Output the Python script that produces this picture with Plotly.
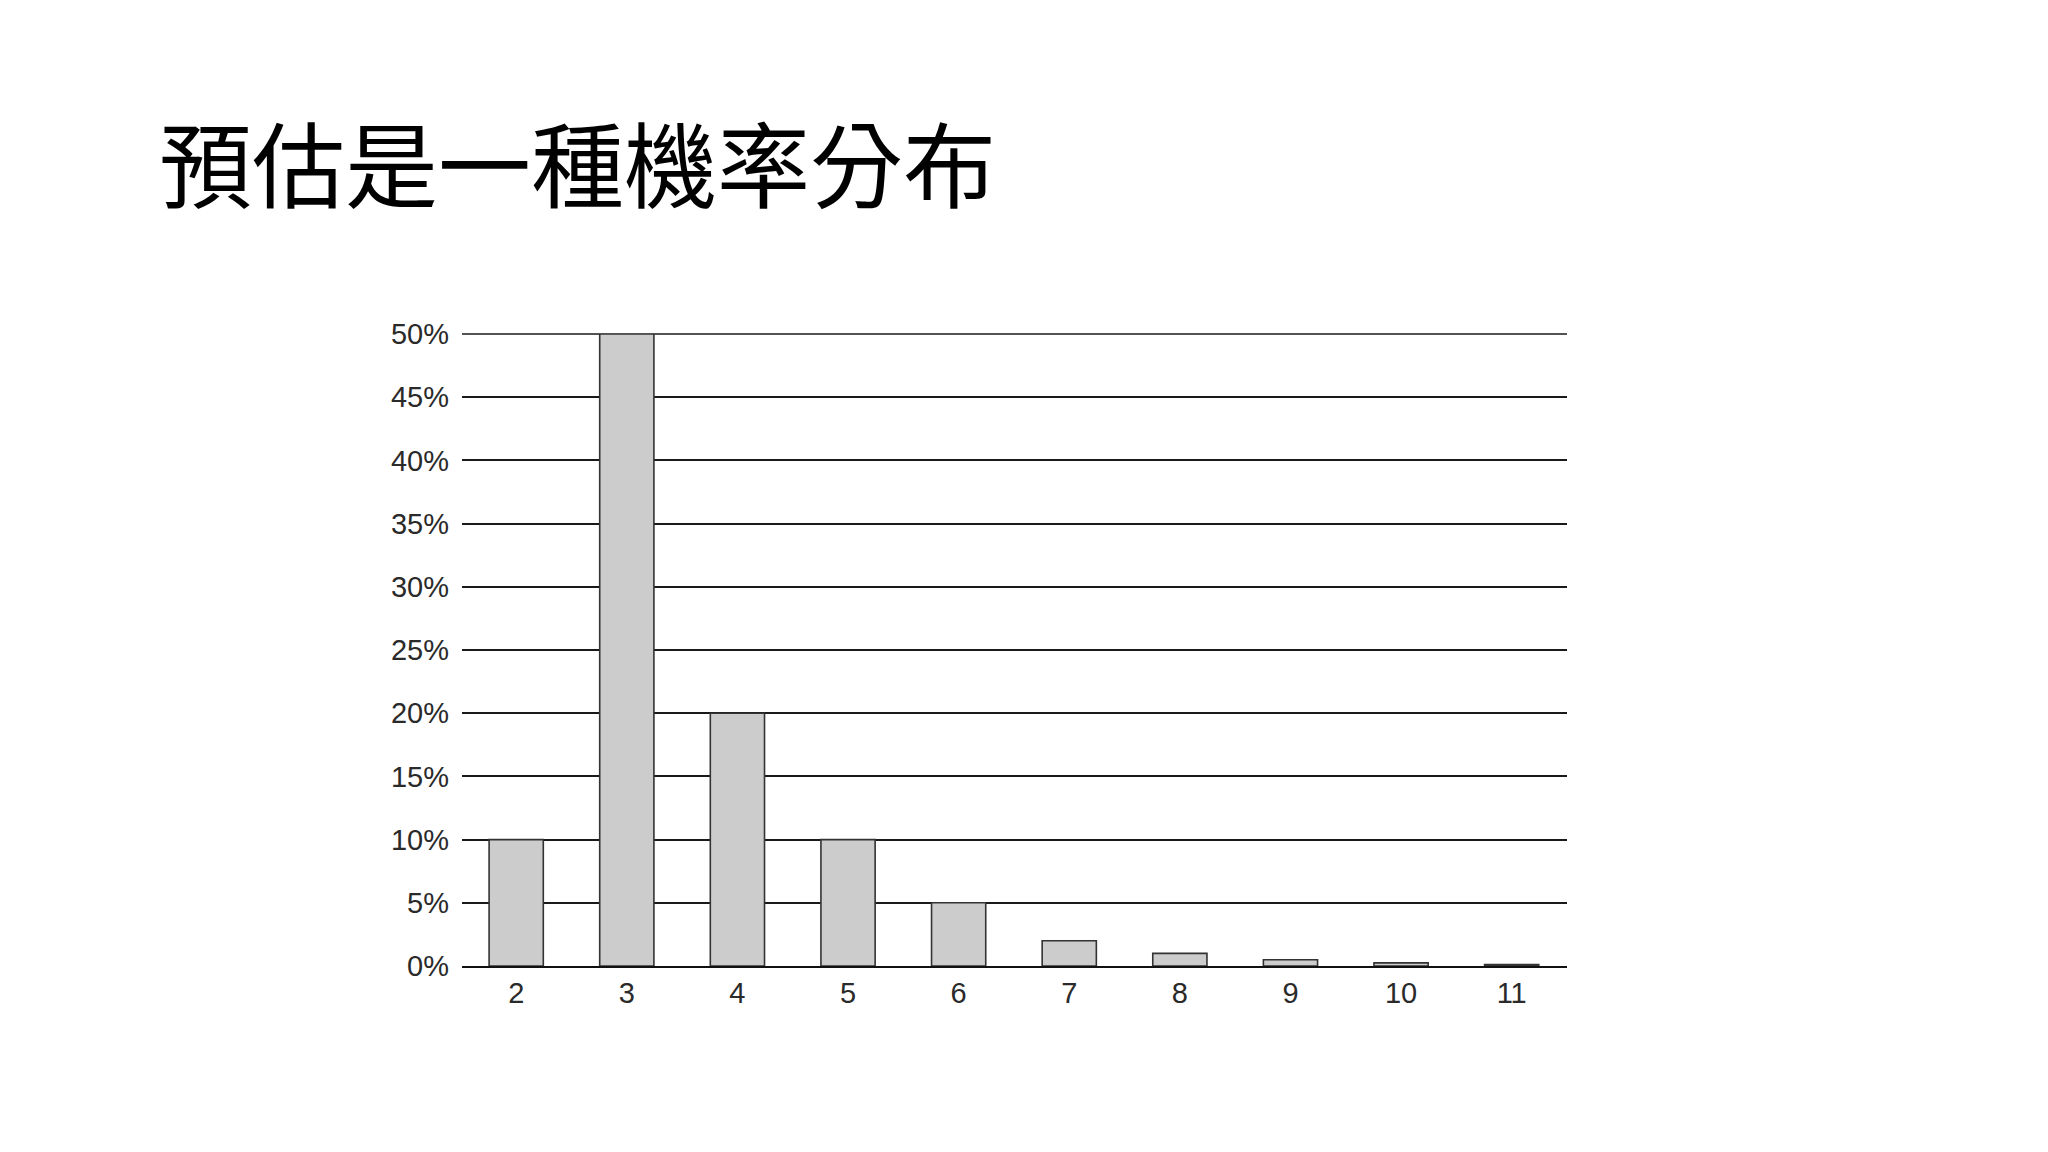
import plotly.graph_objects as go

categories = ["2", "3", "4", "5", "6", "7", "8", "9", "10", "11"]
values = [10, 50, 20, 10, 5, 2, 1, 0.5, 0.25, 0.12]
y_ticks = [0, 5, 10, 15, 20, 25, 30, 35, 40, 45, 50]
y_tick_labels = [f"{v}%" for v in y_ticks]
title_text = "預估是一種機率分布"

fig = go.Figure()
fig.add_trace(go.Bar(
    x=categories, y=values,
    marker=dict(color="#cccccc", line=dict(color="#333333", width=1.6)),
    width=0.49,
    hoverinfo="skip",
))

# top gridline (plotly omits/clips the gridline at the axis edge)
fig.add_shape(type="line", xref="paper", yref="paper", x0=0, x1=1, y0=1, y1=1,
              line=dict(color="#1a1a1a", width=1.6), layer="below")

fig.add_annotation(
    text=title_text, xref="paper", yref="paper",
    x=-0.2756, y=1.274,
    xanchor="left", yanchor="middle", showarrow=False,
    font=dict(family="Noto Sans CJK TC", size=93, color="#000000"),
)

fig.update_layout(
    width=2048, height=1152,
    margin=dict(l=454, r=489, t=326, b=194, autoexpand=False),
    paper_bgcolor="white", plot_bgcolor="white",
    showlegend=False,
    font=dict(family="Liberation Sans, Arial, sans-serif", size=29, color="#2a2a2a"),
)
fig.update_xaxes(
    type="category", range=[-0.49, 9.5],
    showgrid=False, showline=True, linecolor="#111111", linewidth=1.6,
    ticks="", ticklen=0, tickfont=dict(size=29, color="#2a2a2a"),
)
fig.update_yaxes(
    range=[0, 50], tickvals=y_ticks, ticktext=y_tick_labels,
    showgrid=True, gridcolor="#1a1a1a", gridwidth=1.6,
    zeroline=False, showline=False, ticks="", ticklabelstandoff=12,
    tickfont=dict(size=29, color="#2a2a2a"),
)

fig.write_html("out.html")
